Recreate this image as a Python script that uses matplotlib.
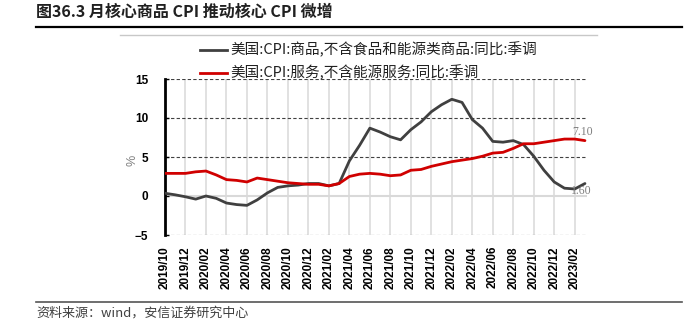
import matplotlib
matplotlib.use("Agg")
import matplotlib.pyplot as plt
from matplotlib.lines import Line2D
import numpy as np

plt.rcParams['font.family'] = ['Noto Sans CJK SC', 'DejaVu Sans']

months = ["2019/10", "2019/11", "2019/12", "2020/01", "2020/02", "2020/03", "2020/04",
          "2020/05", "2020/06", "2020/07", "2020/08", "2020/09", "2020/10", "2020/11",
          "2020/12", "2021/01", "2021/02", "2021/03", "2021/04", "2021/05", "2021/06",
          "2021/07", "2021/08", "2021/09", "2021/10", "2021/11", "2021/12", "2022/01",
          "2022/02", "2022/03", "2022/04", "2022/05", "2022/06", "2022/07", "2022/08",
          "2022/09", "2022/10", "2022/11", "2022/12", "2023/01", "2023/02", "2023/03"]

core_goods = [0.35, 0.15, -0.1, -0.4, 0.0, -0.3, -0.9, -1.1, -1.2, -0.5, 0.4, 1.1, 1.3, 1.4,
              1.6, 1.6, 1.3, 1.6, 4.5, 6.5, 8.7, 8.2, 7.6, 7.2, 8.5, 9.5, 10.8, 11.7,
              12.4, 12.0, 9.8, 8.7, 7.0, 6.9, 7.1, 6.6, 5.1, 3.3, 1.8, 1.0, 0.9, 1.6]

core_services = [2.9, 2.9, 2.9, 3.1, 3.2, 2.7, 2.1, 2.0, 1.8, 2.3, 2.1, 1.9, 1.7, 1.6,
                 1.5, 1.5, 1.3, 1.6, 2.5, 2.8, 2.9, 2.8, 2.6, 2.7, 3.3, 3.4, 3.8, 4.1,
                 4.4, 4.6, 4.8, 5.1, 5.5, 5.6, 6.1, 6.7, 6.7, 6.9, 7.1, 7.3, 7.3, 7.1]

series_names = ["美国:CPI:商品,不含食品和能源类商品:同比:季调",
                "美国:CPI:服务,不含能源服务:同比:季调"]
yticks = [-5, 0, 5, 10, 15]

title = "图36.3 月核心商品 CPI 推动核心 CPI 微增"
source = "资料来源：wind，安信证券研究中心"

GRAY = "#404040"
RED = "#d00000"

W, H = 694, 324
fig = plt.figure(figsize=(W / 100, H / 100), dpi=100)

def fx(px):
    return px / W

def fy(py):
    return 1 - py / H

ax = fig.add_axes([fx(165), fy(235), fx(587) - fx(165), fy(79) - fy(235)])

x = np.arange(len(months))
ax.set_xlim(0, 41.2)
ax.set_ylim(-5, 15)

# grid
for yv in yticks:
    if yv == 0:
        ax.axhline(yv, color="#d9d9d9", lw=1.5, zorder=1)
    else:
        ax.axhline(yv, color="#404040", lw=0.8, ls=(0, (3, 2)), zorder=1)
tick_idx = x[::2]
for xi in tick_idx:
    ax.axvline(xi, color="#dcdcdc", lw=1.2, zorder=0)

ax.plot(x, core_goods, color=GRAY, lw=2, zorder=3, solid_capstyle='round')
ax.plot(x, core_services, color=RED, lw=2, zorder=4, solid_capstyle='round')

# end labels
ax.annotate(f"{core_services[-1]:.2f}", (x[-1], core_services[-1]), xytext=(-2, 2),
            textcoords="offset points", ha="center", va="bottom", color="#7f7f7f",
            fontsize=8.5, family=["Liberation Serif"], zorder=5)
ax.annotate(f"{core_goods[-1]:.2f}", (x[-1], core_goods[-1]), xytext=(-3, -1),
            textcoords="offset points", ha="center", va="top", color="#7f7f7f",
            fontsize=8.5, family=["Liberation Serif"], zorder=5)

for s in ["top", "right", "bottom"]:
    ax.spines[s].set_visible(False)
ax.spines["left"].set_linewidth(2)
ax.spines["left"].set_color("black")

ax.set_yticks(yticks)
ax.set_yticklabels([f"{v}" if v >= 0 else f"\u2212{abs(v)}" for v in yticks],
                   fontsize=8.5, fontweight="bold", family=["Liberation Sans"])
ax.tick_params(axis="y", direction="in", length=3, width=1, pad=12)
ax.set_xticks(tick_idx)
ax.set_xticklabels([months[i] for i in tick_idx], rotation=90, fontsize=8.5,
                   fontweight="bold", family=["Liberation Sans"])
ax.tick_params(axis="x", length=0, pad=8)

fig.text(fx(133), fy(160), "%", rotation=90, ha="center", va="center", color="#7f7f7f",
         fontsize=9, family=["Liberation Sans"])

# legend (manual)
leg_y = [50, 73]
for name, col, py in zip(series_names, [GRAY, RED], leg_y):
    fig.add_artist(Line2D([fx(200), fx(227)], [fy(py), fy(py)], color=col, lw=2,
                          transform=fig.transFigure))
    fig.text(fx(230), fy(py), name, ha="left", va="center", fontsize=10.5, color="#202020")

# title and rules
fig.text(fx(36), fy(12), title, ha="left", va="center", fontsize=11.5, fontweight="bold",
         color="#202020")
fig.add_artist(Line2D([fx(36), fx(682)], [fy(26.5), fy(26.5)], color="black", lw=1.6,
                      transform=fig.transFigure))
fig.add_artist(Line2D([fx(120), fx(597)], [fy(35.3), fy(35.3)], color="#c8c8c8", lw=1.0,
                      transform=fig.transFigure))
fig.add_artist(Line2D([fx(36), fx(682)], [fy(301.7), fy(301.7)], color="#555555", lw=1.2,
                      transform=fig.transFigure))
fig.text(fx(36), fy(313), source, ha="left", va="center", fontsize=9.4, style="italic",
         color="#404040")

fig.savefig("out.png", dpi=100)
